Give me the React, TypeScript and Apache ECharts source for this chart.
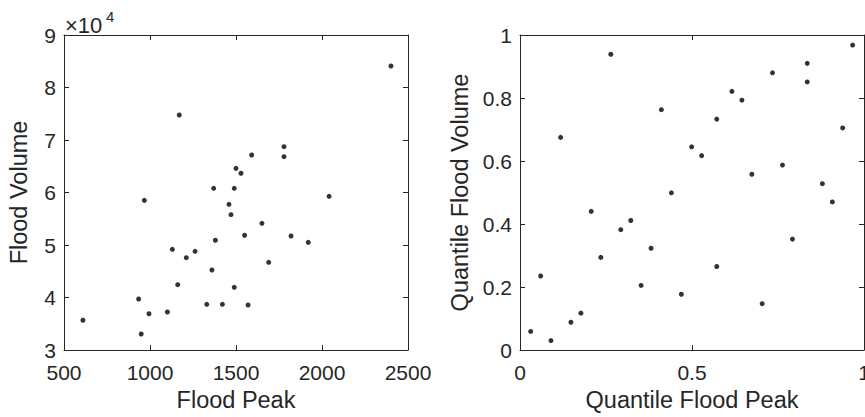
import React, { useEffect, useRef } from "react";
import * as echarts from "echarts";

// Left panel: flood peak vs flood volume
const floodPeak = [2401, 1170, 1779, 1779, 1591, 1500, 1529, 1370, 1490, 967, 1459, 2041, 1471, 1651, 1550, 1820, 1920, 1380, 1130, 1262, 1211, 1690, 1360, 1161, 1490, 934, 1330, 1421, 1570, 1101, 994, 610, 949];
const floodVolume = [84100, 74760, 68730, 66820, 67140, 64600, 63660, 60800, 60800, 58500, 57750, 59270, 55770, 54130, 51850, 51710, 50500, 50900, 49180, 48800, 47580, 46700, 45240, 42440, 41940, 39710, 38700, 38700, 38570, 37240, 36900, 35660, 33050];

// Right panel: quantiles
const quantilePeak = [0.967, 0.264, 0.835, 0.734, 0.835, 0.616, 0.645, 0.411, 0.572, 0.938, 0.118, 0.499, 0.528, 0.763, 0.674, 0.879, 0.908, 0.44, 0.207, 0.322, 0.293, 0.792, 0.381, 0.235, 0.572, 0.06, 0.352, 0.469, 0.704, 0.177, 0.148, 0.031, 0.09];
const quantileVolume = [0.968, 0.939, 0.91, 0.88, 0.851, 0.821, 0.793, 0.763, 0.733, 0.705, 0.675, 0.645, 0.617, 0.587, 0.558, 0.528, 0.47, 0.499, 0.44, 0.411, 0.382, 0.352, 0.323, 0.294, 0.265, 0.235, 0.205, 0.177, 0.147, 0.117, 0.088, 0.059, 0.03];

const xTitles = ["Flood Peak", "Quantile Flood Peak"];
const yTitles = ["Flood Volume", "Quantile Flood Volume"];

const AX = "#262626";
const FONT = "'Liberation Sans', Arial, Helvetica, sans-serif";
const TICK_FS = 21;
const TITLE_FS = 23.5;

export default function App() {
  const ref = useRef<HTMLDivElement>(null);
  useEffect(() => {
    if (!ref.current) return;
    const chart = echarts.init(ref.current, undefined, { renderer: "svg" });

    const lineStyle = { color: AX, width: 1 };
    const nameStyle = { color: AX, fontSize: TITLE_FS, fontFamily: FONT };

    const xRanges = [
      { min: 500, max: 2500, interval: 500 },
      { min: 0, max: 1, interval: 0.5 },
    ];
    const yRanges = [
      { min: 30000, max: 90000, interval: 10000 },
      { min: 0, max: 1, interval: 0.2 },
    ];

    const xAxis: any[] = [];
    const yAxis: any[] = [];
    [0, 1].forEach((g) => {
      xAxis.push({
        type: "value",
        gridIndex: g,
        position: "bottom",
        ...xRanges[g],
        axisLine: { show: true, onZero: false, lineStyle },
        axisTick: { show: true, inside: true, length: 5, lineStyle },
        splitLine: { show: false },
        name: xTitles[g],
        nameLocation: "middle",
        nameGap: 38,
        nameTextStyle: nameStyle,
        axisLabel: {
          show: true,
          color: AX,
          fontSize: TICK_FS,
          fontFamily: FONT,
          margin: 12,
          hideOverlap: false,
          formatter: (v: number) => String(v),
        },
      });
      xAxis.push({
        type: "value",
        gridIndex: g,
        position: "top",
        ...xRanges[g],
        axisLine: { show: true, onZero: false, lineStyle },
        axisTick: { show: true, inside: true, length: 5, lineStyle },
        splitLine: { show: false },
        axisLabel: { show: false },
      });
      yAxis.push({
        type: "value",
        gridIndex: g,
        position: "left",
        ...yRanges[g],
        axisLine: { show: true, onZero: false, lineStyle },
        axisTick: { show: true, inside: true, length: 5, lineStyle },
        splitLine: { show: false },
        name: yTitles[g],
        nameLocation: "middle",
        nameGap: g === 0 ? 33 : 48,
        nameTextStyle: nameStyle,
        axisLabel: {
          show: true,
          color: AX,
          fontSize: TICK_FS,
          fontFamily: FONT,
          margin: 8,
          formatter: g === 0 ? (v: number) => String(v / 10000) : (v: number) => String(v),
        },
      });
      yAxis.push({
        type: "value",
        gridIndex: g,
        position: "right",
        ...yRanges[g],
        axisLine: { show: true, onZero: false, lineStyle },
        axisTick: { show: true, inside: true, length: 5, lineStyle },
        splitLine: { show: false },
        axisLabel: { show: false },
      });
    });

    chart.setOption({
      animation: false,
      grid: [
        { left: 64, top: 35, width: 344, height: 315, containLabel: false, outerBoundsMode: "none" },
        { left: 520, top: 35, width: 344, height: 315, containLabel: false, outerBoundsMode: "none" },
      ],
      xAxis,
      yAxis,
      series: [
        {
          type: "scatter",
          xAxisIndex: 0,
          yAxisIndex: 0,
          symbol: "circle",
          symbolSize: 5,
          itemStyle: { color: "#000" },
          data: floodPeak.map((p, i) => [p, floodVolume[i]]),
        },
        {
          type: "scatter",
          xAxisIndex: 2,
          yAxisIndex: 2,
          symbol: "circle",
          symbolSize: 5,
          itemStyle: { color: "#000" },
          data: quantilePeak.map((p, i) => [p, quantileVolume[i]]),
        },
      ],
      graphic: [
        {
          type: "text",
          left: 65,
          top: 14,
          style: { text: "×10", fill: AX, fontSize: 22, fontFamily: FONT },
        },
        {
          type: "text",
          left: 106,
          top: 9,
          style: { text: "4", fill: AX, fontSize: 15, fontFamily: FONT },
        },
      ],
    });
    return () => chart.dispose();
  }, []);
  return (
    <div
      ref={ref}
      style={{ position: "fixed", left: 0, top: 0, width: 865, height: 417, background: "#fff" }}
    />
  );
}
